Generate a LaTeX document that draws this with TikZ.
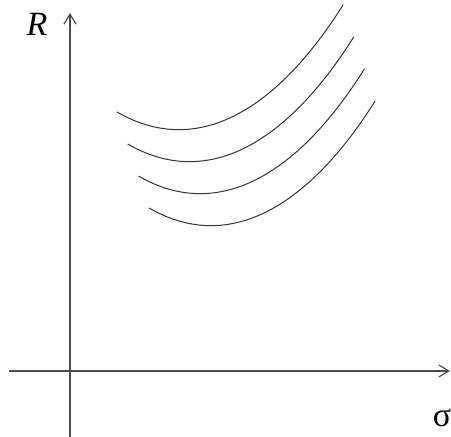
\documentclass[tikz,border=0pt]{standalone}
\usepackage{fontspec}
\setmainfont{Liberation Serif}
\usetikzlibrary{arrows.meta}

\begin{document}
\begin{tikzpicture}[x=1pt, y=1pt, >={Straight Barb[length=10pt,width=12pt]}]
	\useasboundingbox (0,0) rectangle (451,437);
	\coordinate (ybot) at (70,0);
	\coordinate (ytop) at (70,424);
	\coordinate (xleft) at (9,66);
	\coordinate (xright) at (450,66);
	\draw[->, line width=1.2pt, black!70] (ybot) -- (ytop);
	\draw[->, line width=1.2pt, black!70] (xleft) -- (xright);
	\node[font=\fontsize{34}{40}\selectfont\itshape] (lblR) at (37,413) {R};
	\node[font=\fontsize{34}{40}\selectfont] (lblsigma) at (442,19) {σ};
	% indifference curves
	\foreach \i in {0,...,3}
		\draw[line width=1pt, black!80, shift={(10.7*\i,-32*\i)}] (117,325) .. controls (199,277.5) and (279,330) .. (343,432);
\end{tikzpicture}
\end{document}
